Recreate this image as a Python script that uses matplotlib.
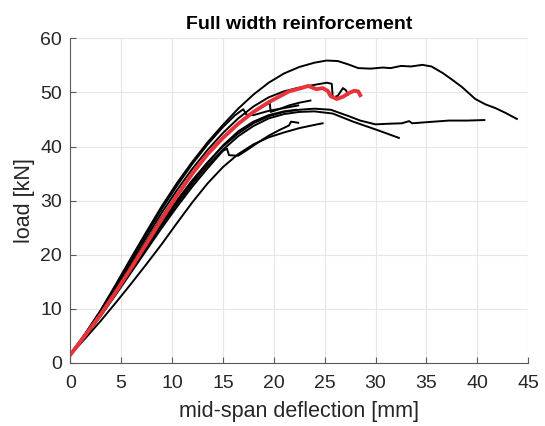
import matplotlib.pyplot as plt

plt.rcParams['font.family'] = ['Liberation Sans', 'DejaVu Sans']

# black test curves (deflection mm, load kN)
xa = [0, 1.5, 3, 4.5, 6, 7.5, 9, 10.5, 12, 13.5, 15, 16.5, 18, 19.5, 21, 22.5, 24, 25.2, 26.3, 27.3,
      28.3, 29.5, 30.7, 31.5, 32.5, 33.5, 34.6, 35.5, 36.6, 37.5, 38.5, 39.8, 40.8, 41.8, 42.8, 43.9]
ya = [1.5, 5.5, 9.8, 14.6, 19.5, 24.3, 29, 33.3, 37.2, 40.8, 44, 47, 49.6, 51.8, 53.5, 54.7, 55.5, 55.9, 55.8, 55.2,
      54.5, 54.4, 54.6, 54.5, 54.9, 54.8, 55.1, 54.8, 53.6, 52.4, 51, 48.8, 47.8, 47.1, 46.2, 45.1]

xb = [0, 1.5, 3, 4.5, 6, 7.5, 9, 10.5, 12, 13.5, 15, 16.5, 18, 19.5, 21, 22.5, 24, 25.2, 25.7, 25.8, 26.3, 26.8, 27.1, 27.3]
yb = [1.5, 5.4, 9.5, 14.0, 18.7, 23.3, 27.8, 32, 35.9, 39.4, 42.5, 45.2, 47.4, 49.1, 50.2, 50.9, 51.4, 51.8, 51.6, 49, 49.4, 50.8, 50.4, 49.6]

xc = [0, 1.5, 3, 4.5, 6, 7.5, 9, 10.5, 12, 13.5, 15, 16.5, 18, 19.5, 21, 22.5, 24, 25.6, 27.4, 28.5,
      30, 31.1, 32.6, 33.3, 33.6, 35, 37.2, 39, 40.7]
yc = [1.5, 5.2, 9.1, 13.3, 17.6, 21.9, 26.1, 30.1, 33.8, 37.1, 40, 42.4, 44.3, 45.6, 46.4, 46.8, 47, 46.8, 45.6, 44.8,
      44.1, 44.2, 44.3, 44.7, 44.3, 44.5, 44.8, 44.8, 44.9]

xd = [0, 1.5, 3, 4.5, 6, 7.5, 9, 10.5, 12, 13.5, 15, 16.5, 18, 19.5, 21, 22.5, 24, 25.8, 27.8, 30.1, 32.3]
yd = [1.5, 5.1, 8.9, 13, 17.2, 21.4, 25.5, 29.4, 33.1, 36.5, 39.4, 41.9, 43.8, 45.2, 46, 46.4, 46.5, 46.1, 44.6, 43.1, 41.6]

xe = [0, 1.5, 3, 4.5, 6, 7.5, 9, 10.5, 12, 13.5, 15, 16.5, 18, 19.5, 21, 22.5, 24, 24.8]
ye = [1.5, 4.6, 7.8, 11.2, 14.7, 18.3, 22.0, 25.9, 29.7, 33.2, 36.2, 38.6, 40.4, 41.7, 42.6, 43.4, 44, 44.3]

xf = [0, 1.5, 3, 4.5, 6, 7.5, 9, 10.5, 12, 13.5, 15, 15.4, 15.6, 16.5, 17.4, 18.5, 19.5, 20.5, 21.5, 21.7, 22.4]
yf = [1.5, 5.0, 8.7, 12.7, 16.8, 20.9, 25, 28.9, 32.6, 36, 39.2, 39.6, 38.4, 38.3, 39.4, 40.8, 42, 43, 43.9, 44.6, 44.4]

xg = [0, 1.5, 3, 4.5, 6, 7.5, 9, 10.5, 12, 13.5, 15, 16.2, 17, 17.3, 18, 19.5, 21, 22.4]
yg = [1.5, 5.5, 9.7, 14.4, 19.2, 23.9, 28.5, 32.8, 36.8, 40.4, 43.6, 45.8, 46.9, 45.9, 45.8, 46.6, 47.1, 47.6]

xh = [0, 1.5, 3, 4.5, 6, 7.5, 9, 10.5, 12, 13.5, 15, 16.5, 18, 19.6, 19.7, 20.5, 21.5, 22.5, 23.6]
yh = [1.5, 5.3, 9.3, 13.6, 18.1, 22.6, 27, 31.2, 35.1, 38.6, 41.7, 44.3, 46.4, 48.1, 46.4, 46.9, 47.6, 48.1, 48.5]

xi = [0, 1.5, 3, 4.5, 6, 7.5, 9, 10.5, 12, 13.5, 15, 16.5, 18, 19.5, 21, 22.2]
yi = [1.5, 5.2, 9.0, 13.1, 17.3, 21.6, 25.8, 29.8, 33.5, 37.0, 40.2, 42.8, 44.6, 45.8, 46.5, 46.8]

# red (highlighted) curve
xr = [0, 1.5, 3, 4.5, 6, 7.5, 9, 10.5, 12, 13.5, 15, 16.5, 18, 19.5, 20.5, 21.5, 22.5, 23.4, 24.2,
      24.8, 25.3, 25.6, 26.2, 26.8, 27.4, 27.9, 28.3, 28.5]
yr = [1.5, 5.2, 9.0, 13.2, 17.6, 22.1, 26.6, 31.0, 35, 38.6, 41.6, 44.2, 46.4, 48.2, 49.2, 50.2, 50.7, 51.2, 50.6,
      50.8, 50.3, 49.3, 48.8, 49.2, 49.9, 50.3, 50.2, 49.5]

black = [(xa, ya), (xb, yb), (xc, yc), (xd, yd), (xe, ye), (xf, yf), (xg, yg), (xh, yh), (xi, yi)]

fig = plt.figure(figsize=(5.45, 4.26), dpi=100)
ax = fig.add_axes([0.129, 0.148, 0.84, 0.762])

for x, y in black:
    ax.plot(x, y, color='black', lw=1.4, solid_joinstyle='round')
ax.plot(xr, yr, color='#e8333a', lw=2.8, solid_joinstyle='round')

ax.set_xlim(0, 45)
ax.set_ylim(0, 60)
ax.set_xticks(range(0, 46, 5))
ax.set_yticks(range(0, 61, 10))
ax.grid(True, color='#e6e6e6', lw=0.8)
ax.set_axisbelow(True)
for s in ['top', 'right']:
    ax.spines[s].set_visible(False)
for s in ['left', 'bottom']:
    ax.spines[s].set_color('#5a5a5a')
    ax.spines[s].set_linewidth(0.8)
ax.tick_params(direction='in', length=4, width=0.8, color='#5a5a5a', labelsize=14,
               labelcolor='#262626')
ax.tick_params(axis='x', pad=9)
ax.tick_params(axis='y', pad=6)

ax.set_title('Full width reinforcement', fontsize=14, fontweight='bold', pad=7)
ax.set_xlabel('mid-span deflection [mm]', fontsize=15.5, color='#262626', labelpad=6)
ax.set_ylabel('load [kN]', fontsize=15.5, color='#262626', labelpad=4)

fig.savefig('out.png', dpi=100)
